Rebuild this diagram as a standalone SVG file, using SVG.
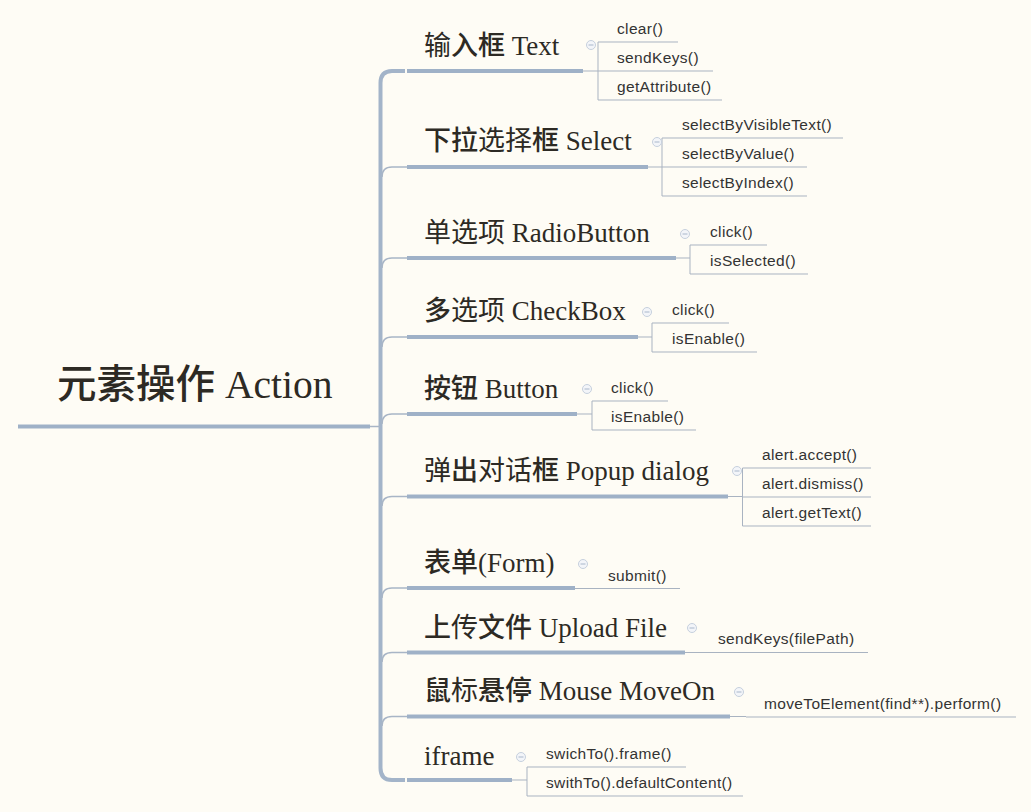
<svg xmlns="http://www.w3.org/2000/svg" width="1031" height="812" viewBox="0 0 1031 812">
<defs>
<style>
.bg{fill:#fefcf5}
.main{font-family:"Liberation Serif","Noto Sans CJK SC",serif;font-size:39.5px;fill:#2d2a24}
.br{font-family:"Liberation Serif","Noto Sans CJK SC",serif;font-size:27px;fill:#2d2a24}
.b{font-weight:500}
.leaf{font-family:"Liberation Sans",Arial,sans-serif;font-size:15.5px;letter-spacing:0.35px;fill:#333333}
.thick{stroke:#9fb1c7;stroke-width:4;fill:none;stroke-linecap:butt}
.spine{stroke:#a3b4c9;stroke-width:4;fill:none}
.thin{stroke:#a8b5c6;stroke-width:1.5;fill:none}
.lu{stroke:#a9b3c1;stroke-width:1;fill:none}
.ico circle{fill:#f3f5f9;stroke:#c6d0dd;stroke-width:1}
.ico line{stroke:#a9b7ca;stroke-width:1}
</style>
<g id="icon" class="ico"><circle cx="0" cy="0" r="4.5"/><line x1="-2.5" y1="0" x2="2.5" y2="0"/></g>
</defs>
<rect class="bg" x="0" y="0" width="1031" height="812"/>

<g id="connectors">
<path class="spine" d="M405 71 H392 Q380.5 71 380.5 83 V768 Q380.5 780 392 780 H405"/>
<path class="thin" d="M370 426.5 H380"/>
<path class="thin" d="M382 177 Q382 167 392 167 H407"/>
<path class="thin" d="M382 268 Q382 258 392 258 H407"/>
<path class="thin" d="M382 347 Q382 337 392 337 H407"/>
<path class="thin" d="M382 424 Q382 414 392 414 H407"/>
<path class="thin" d="M382 506 Q382 496.5 392 496.5 H407"/>
<path class="thin" d="M382 598 Q382 588 392 588 H407"/>
<path class="thin" d="M382 662 Q382 652.5 392 652.5 H407"/>
<path class="thin" d="M382 726 Q382 716.5 392 716.5 H407"/>
<path class="lu" d="M583 71 H598 M598 42 V100"/>
<path class="lu" d="M648 167 H662 M662 138 V196"/>
<path class="lu" d="M676 258 H690 M690 245 V274"/>
<path class="lu" d="M638 337 H652 M652 323 V352"/>
<path class="lu" d="M577 414 H592 M592 401 V430"/>
<path class="lu" d="M728 496.5 H742.5 M742.5 468 V526"/>
<path class="lu" d="M575 588.5 H590"/>
<path class="lu" d="M685 652.5 H700"/>
<path class="lu" d="M730 716.5 H746"/>
<path class="lu" d="M512 780 H527 M527 767 V796"/>
</g>

<g id="root">
<text class="main" x="57" y="398"><tspan class="b">元素操作</tspan> Action</text>
<line class="thick" x1="18" y1="426.5" x2="370" y2="426.5"/>
</g>

<g id="n-text">
<text class="br" x="424" y="55">输<tspan class="b">入框</tspan> Text</text>
<line class="thick" x1="407" y1="71" x2="583" y2="71"/>
<use href="#icon" x="591" y="45"/>
</g>
<g id="n-text-leaves">
<text class="leaf" x="617" y="34">clear()</text><line class="lu" x1="598" y1="42" x2="678" y2="42"/>
<text class="leaf" x="617" y="63">sendKeys()</text><line class="lu" x1="598" y1="71" x2="713" y2="71"/>
<text class="leaf" x="617" y="92">getAttribute()</text><line class="lu" x1="598" y1="100" x2="722" y2="100"/>
</g>

<g id="n-select">
<text class="br" x="424" y="150"><tspan class="b">下拉</tspan>选择<tspan class="b">框</tspan> Select</text>
<line class="thick" x1="407" y1="167" x2="648" y2="167"/>
<use href="#icon" x="657" y="142"/>
</g>
<g id="n-select-leaves">
<text class="leaf" x="682" y="130">selectByVisibleText()</text><line class="lu" x1="662" y1="138" x2="843" y2="138"/>
<text class="leaf" x="682" y="159">selectByValue()</text><line class="lu" x1="662" y1="167" x2="807" y2="167"/>
<text class="leaf" x="682" y="188">selectByIndex()</text><line class="lu" x1="662" y1="196" x2="807" y2="196"/>
</g>

<g id="n-radio">
<text class="br" x="424" y="242">单选项 RadioButton</text>
<line class="thick" x1="407" y1="258" x2="676" y2="258"/>
<use href="#icon" x="685" y="234"/>
</g>
<g id="n-radio-leaves">
<text class="leaf" x="710" y="237">click()</text><line class="lu" x1="690" y1="245" x2="767" y2="245"/>
<text class="leaf" x="710" y="266">isSelected()</text><line class="lu" x1="690" y1="274" x2="808" y2="274"/>
</g>

<g id="n-checkbox">
<text class="br" x="424" y="320"><tspan class="b">多</tspan>选项 CheckBox</text>
<line class="thick" x1="407" y1="337" x2="638" y2="337"/>
<use href="#icon" x="647" y="312"/>
</g>
<g id="n-checkbox-leaves">
<text class="leaf" x="672" y="315">click()</text><line class="lu" x1="652" y1="323" x2="729" y2="323"/>
<text class="leaf" x="672" y="344">isEnable()</text><line class="lu" x1="652" y1="352" x2="757" y2="352"/>
</g>

<g id="n-button">
<text class="br" x="424" y="398"><tspan class="b">按钮</tspan> Button</text>
<line class="thick" x1="407" y1="414" x2="577" y2="414"/>
<use href="#icon" x="587" y="389"/>
</g>
<g id="n-button-leaves">
<text class="leaf" x="611" y="393">click()</text><line class="lu" x1="592" y1="401" x2="668" y2="401"/>
<text class="leaf" x="611" y="422">isEnable()</text><line class="lu" x1="592" y1="430" x2="696" y2="430"/>
</g>

<g id="n-popup">
<text class="br" x="424" y="480">弹<tspan class="b">出</tspan>对话<tspan class="b">框</tspan> Popup dialog</text>
<line class="thick" x1="407" y1="496.5" x2="728" y2="496.5"/>
<use href="#icon" x="737" y="471"/>
</g>
<g id="n-popup-leaves">
<text class="leaf" x="762" y="460">alert.accept()</text><line class="lu" x1="742.5" y1="468" x2="871" y2="468"/>
<text class="leaf" x="762" y="489">alert.dismiss()</text><line class="lu" x1="742.5" y1="497" x2="871" y2="497"/>
<text class="leaf" x="762" y="518">alert.getText()</text><line class="lu" x1="742.5" y1="526" x2="871" y2="526"/>
</g>

<g id="n-form">
<text class="br" x="424" y="572"><tspan class="b">表单</tspan>(Form)</text>
<line class="thick" x1="407" y1="588" x2="575" y2="588"/>
<use href="#icon" x="583" y="564"/>
</g>
<g id="n-form-leaves">
<text class="leaf" x="608" y="581">submit()</text><line class="lu" x1="590" y1="588.5" x2="680" y2="588.5"/>
</g>

<g id="n-upload">
<text class="br" x="424" y="637"><tspan class="b">上</tspan>传<tspan class="b">文件</tspan> Upload File</text>
<line class="thick" x1="407" y1="652.5" x2="685" y2="652.5"/>
<use href="#icon" x="692" y="628"/>
</g>
<g id="n-upload-leaves">
<text class="leaf" x="718" y="644">sendKeys(filePath)</text><line class="lu" x1="700" y1="652.5" x2="868" y2="652.5"/>
</g>

<g id="n-mouse">
<text class="br" x="424" y="700"><tspan class="b">鼠</tspan>标<tspan class="b">悬停</tspan> Mouse MoveOn</text>
<line class="thick" x1="407" y1="716.5" x2="730" y2="716.5"/>
<use href="#icon" x="739" y="692"/>
</g>
<g id="n-mouse-leaves">
<text class="leaf" x="764" y="709">moveToElement(find**).perform()</text><line class="lu" x1="746" y1="717" x2="1016" y2="717"/>
</g>

<g id="n-iframe">
<text class="br" x="424" y="765">iframe</text>
<line class="thick" x1="407" y1="780" x2="512" y2="780"/>
<use href="#icon" x="521" y="757"/>
</g>
<g id="n-iframe-leaves">
<text class="leaf" x="546" y="759">swichTo().frame()</text><line class="lu" x1="527" y1="767" x2="686" y2="767"/>
<text class="leaf" x="546" y="788">swithTo().defaultContent()</text><line class="lu" x1="527" y1="796" x2="743" y2="796"/>
</g>
</svg>
